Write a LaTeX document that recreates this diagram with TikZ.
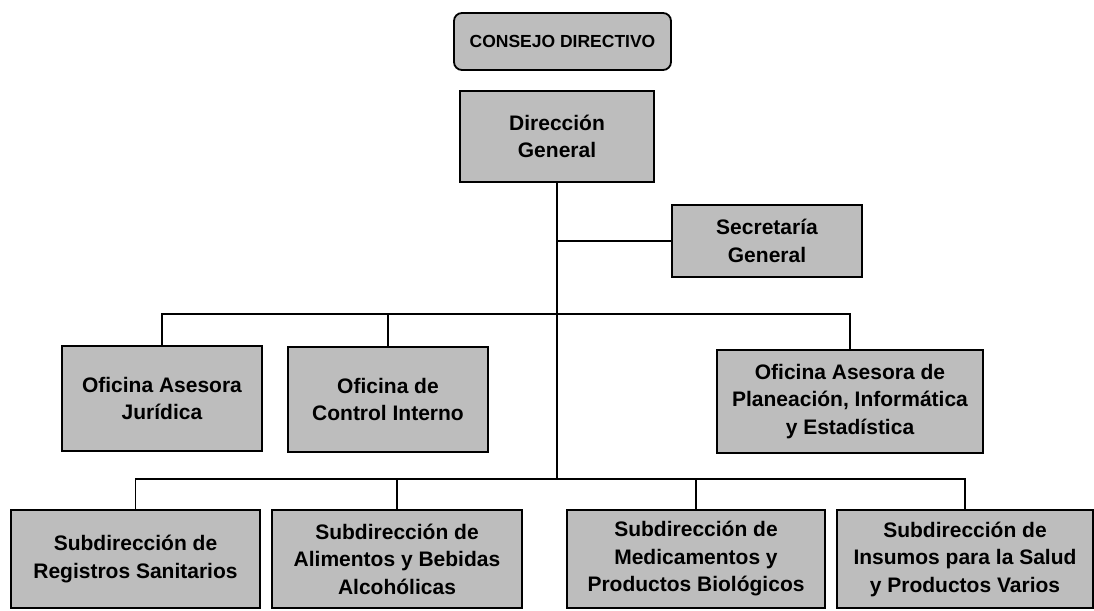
\documentclass[tikz,border=0pt]{standalone}
\usepackage{fontspec}
\setmainfont{Liberation Sans}
\definecolor{boxfill}{gray}{0.74}
\begin{document}
\begin{tikzpicture}[x=1pt,y=-1pt,
  box/.style={draw=black,line width=1.8pt,fill=boxfill,inner sep=0pt,align=center,
    font=\bfseries\fontsize{21}{27.5}\selectfont},
  topbox/.style={box,rounded corners=8pt,font=\bfseries\fontsize{17.5}{20}\selectfont},
  link/.style={line width=1.8pt,draw=black}]
\useasboundingbox (0,0) rectangle (1094,610);
\begin{scope}
\clip (0,0) rectangle (1094,610);
\node[topbox,minimum width=217pt,minimum height=57pt] (cd) at (562.5,41.5) {CONSEJO DIRECTIVO};
\node[box,minimum width=194pt,minimum height=91pt] (dg) at (557,136.5) {Dirección\\General};
\node[box,minimum width=190pt,minimum height=72pt] (sg) at (767,241) {Secretaría\\General};
\node[box,minimum width=200pt,minimum height=105pt] (oaj) at (162,398.5) {Oficina Asesora\\Jurídica};
\node[box,minimum width=200pt,minimum height=105pt] (oci) at (388,399.5) {Oficina de\\Control Interno};
\node[box,minimum width=266pt,minimum height=103pt] (oap) at (850,401.5) {Oficina Asesora de\\Planeación, Informática\\y Estadística};
\node[box,minimum width=249pt,minimum height=98pt] (s1) at (135.5,559) {Subdirección de\\Registros Sanitarios};
\node[box,minimum width=250pt,minimum height=98pt] (s2) at (397,559) {Subdirección de\\Alimentos y Bebidas\\Alcohólicas};
\node[box,minimum width=258pt,minimum height=98pt] (s3) at (696,559) {Subdirección de\\Medicamentos y\\Productos Biológicos};
\node[box,minimum width=256pt,minimum height=98pt] (s4) at (965,559) {Subdirección de\\Insumos para la Salud\\y Productos Varios};
\end{scope}
\coordinate (j1) at (557,241);
\coordinate (j2) at (557,314);
\coordinate (j3) at (557,479);
\draw[link] (dg.south) -- (j3);
\draw[link] (j1) -- (sg.west);
\draw[link] (oaj.north) |- (j2);
\draw[link] (oap.north) |- (j2);
\draw[link] (oci.north) -- (oci.north |- j2);
\draw[link] (s1.north) |- (j3);
\draw[link] (s4.north) |- (j3);
\draw[link] (s2.north) -- (s2.north |- j3);
\draw[link] (s3.north) -- (s3.north |- j3);
\end{tikzpicture}
\end{document}
